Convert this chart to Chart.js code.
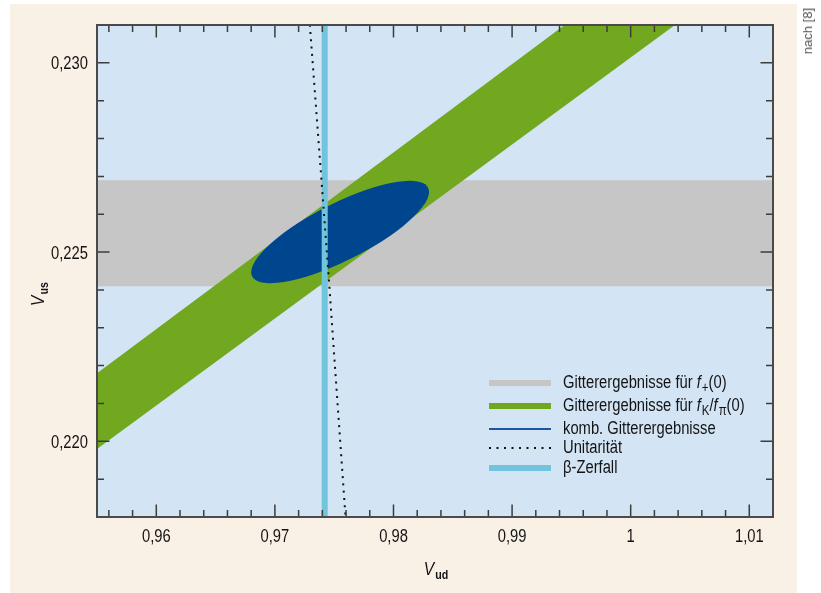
<!DOCTYPE html>
<html>
<head>
<meta charset="utf-8">
<title>Vud / Vus</title>
<script src="https://cdn.jsdelivr.net/npm/chart.js@4.4.0/dist/chart.umd.min.js"></script>
<style>
  html, body { margin: 0; padding: 0; background: #fff; }
  #wrap { position: relative; width: 821px; height: 593px; overflow: hidden; }
  #note {
    position: absolute; left: 800px; top: 8px;
    writing-mode: vertical-rl; transform: rotate(180deg);
    font: 13px 'Liberation Sans', Arial, sans-serif;
    color: #555;
  }
</style>
</head>
<body>
<div id="wrap">
  <canvas id="chart" width="821" height="593"></canvas>
  <div id="note">nach [8]</div>
</div>
<script>
// condensed look: Liberation Sans squeezed horizontally (Arial Narrow style)
const FONT = "'Liberation Sans', Arial, sans-serif";
const SQUEEZE = 0.82;

// axes
const xRange = [0.955, 1.012];
const yRange = [0.218, 0.231];
const xTicks = [0.96, 0.97, 0.98, 0.99, 1.00, 1.01];
const xTickLabels = ['0,96', '0,97', '0,98', '0,99', '1', '1,01'];
const yTicks = [0.220, 0.225, 0.230];
const yTickLabels = ['0,220', '0,225', '0,230'];
const xMinorStep = 0.002;
const yMinorStep = 0.001;

// f+(0) lattice band (horizontal)
const bandX = [0.955, 1.012];
const fPlusUpper = [0.2269, 0.2269];
const fPlusLower = [0.2241, 0.2241];

// fK/fpi lattice band (diagonal)
const fKUpper = [0.2218, 0.2351];
const fKLower = [0.2198, 0.2329];

// combined lattice result (ellipse): centre + two conjugate half axes
const ellipseCenter = [0.9755, 0.22553];
const ellipseAxisA = [0.0075, 0.00106];
const ellipseAxisB = [0, 0.00084];

// beta decay
const betaX = [0.9742, 0.9742];
const betaY = [0.2170, 0.2320];

// unitarity
const unitX = [0.9729, 0.9745, 0.9760];
const unitY = [0.2312, 0.2245, 0.2178];

const colors = {
  grey: '#c6c6c6',
  green: '#71a81f',
  navy: '#00468f',
  navyLine: '#1b56a3',
  cyan: '#70c5dc',
  plot: '#d3e4f5',
  paper: '#f9f0e6',
  text: '#141414'
};

// legend rows: parts = [text, style]  (n normal, i italic, s subscript)
const legendRows = [
  { parts: [['Gitterergebnisse für ', 'n'], ['f', 'i'], ['+', 's'], ['(0)', 'n']], kind: 'band', color: colors.grey },
  { parts: [['Gitterergebnisse für ', 'n'], ['f', 'i'], ['K', 's'], ['/', 'n'], ['f', 'i'], ['π', 's'], ['(0)', 'n']], kind: 'band', color: colors.green },
  { parts: [['komb. Gitterergebnisse', 'n']], kind: 'line', color: colors.navyLine },
  { parts: [['Unitarität', 'n']], kind: 'dots', color: '#111' },
  { parts: [['β-Zerfall', 'n']], kind: 'band', color: colors.cyan }
];

const pts = (xs, ys) => xs.map((x, i) => ({ x, y: ys[i] }));

const fontFor = style => {
  if (style === 'i') return 'italic 18px ' + FONT;
  if (style === 's') return '14px ' + FONT;
  if (style === 'b') return 'bold 13px ' + FONT;
  if (style === 'V') return 'italic 19px ' + FONT;
  return '18px ' + FONT;
};

// squeezed text, returns drawn width
function text(ctx, t, x, y, font, align) {
  ctx.save();
  ctx.font = font;
  ctx.textAlign = align || 'left';
  ctx.textBaseline = 'alphabetic';
  ctx.translate(x, y);
  ctx.scale(SQUEEZE, 1);
  ctx.fillText(t, 0, 0);
  const w = ctx.measureText(t).width * SQUEEZE;
  ctx.restore();
  return w;
}

function partsWidth(ctx, parts) {
  let w = 0;
  for (const [t, style] of parts) {
    ctx.font = fontFor(style);
    w += ctx.measureText(t).width * SQUEEZE + (style === 'i' || style === 'V' ? 1 : 0);
  }
  return w;
}

function drawParts(ctx, parts, x, y) {
  for (const [t, style] of parts) {
    const dy = (style === 's' || style === 'b') ? 4 : 0;
    x += text(ctx, t, x, y + dy, fontFor(style)) + (style === 'i' || style === 'V' ? 1 : 0);
  }
}

const paperPlugin = {
  id: 'paper',
  beforeDraw(chart) {
    const { ctx, chartArea: a } = chart;
    ctx.save();
    ctx.fillStyle = colors.paper;
    ctx.fillRect(10, 4, 787, 589);
    ctx.fillStyle = colors.plot;
    ctx.fillRect(a.left, a.top, a.right - a.left, a.bottom - a.top);
    ctx.restore();
  }
};

const ellipsePlugin = {
  id: 'ellipse',
  afterDatasetDraw(chart, args) {
    if (args.index !== 2) return;
    const { ctx, chartArea: a, scales: { x, y } } = chart;
    const cx = x.getPixelForValue(ellipseCenter[0]);
    const cy = y.getPixelForValue(ellipseCenter[1]);
    const ax = x.getPixelForValue(ellipseCenter[0] + ellipseAxisA[0]) - cx;
    const ay = y.getPixelForValue(ellipseCenter[1] + ellipseAxisA[1]) - cy;
    const bx = x.getPixelForValue(ellipseCenter[0] + ellipseAxisB[0]) - cx;
    const by = y.getPixelForValue(ellipseCenter[1] + ellipseAxisB[1]) - cy;
    ctx.save();
    ctx.beginPath();
    ctx.rect(a.left, a.top, a.right - a.left, a.bottom - a.top);
    ctx.clip();
    ctx.transform(ax, ay, bx, by, cx, cy);
    ctx.beginPath();
    ctx.arc(0, 0, 1, 0, Math.PI * 2);
    ctx.setTransform(1, 0, 0, 1, 0, 0);
    ctx.fillStyle = colors.navy;
    ctx.fill();
    ctx.restore();
  }
};

// frame, inward ticks on all four sides, labels, titles, legend
const framePlugin = {
  id: 'frame',
  afterDatasetsDraw(chart) {
    const { ctx, chartArea: a, scales: { x, y } } = chart;
    ctx.save();
    ctx.strokeStyle = '#3c3c3c';
    ctx.lineWidth = 1.5;
    ctx.beginPath();
    for (let k = Math.ceil(xRange[0] / xMinorStep - 1e-6); k * xMinorStep <= xRange[1] + 1e-9; k++) {
      const v = k * xMinorStep;
      const major = xTicks.some(t => Math.abs(t - v) < 1e-7);
      const len = major ? 12.5 : 7;
      const px = x.getPixelForValue(v);
      ctx.moveTo(px, a.bottom); ctx.lineTo(px, a.bottom - len);
      ctx.moveTo(px, a.top); ctx.lineTo(px, a.top + len);
    }
    for (let k = Math.ceil(yRange[0] / yMinorStep - 1e-6); k * yMinorStep <= yRange[1] + 1e-9; k++) {
      const v = k * yMinorStep;
      const major = yTicks.some(t => Math.abs(t - v) < 1e-7);
      const len = major ? 12.5 : 7;
      const py = y.getPixelForValue(v);
      ctx.moveTo(a.left, py); ctx.lineTo(a.left + len, py);
      ctx.moveTo(a.right, py); ctx.lineTo(a.right - len, py);
    }
    ctx.stroke();
    ctx.lineWidth = 2;
    ctx.strokeStyle = '#4a4a4a';
    ctx.strokeRect(a.left, a.top, a.right - a.left, a.bottom - a.top);
    ctx.restore();
  },
  afterDraw(chart) {
    const { ctx, chartArea: a, scales: { x, y } } = chart;
    ctx.save();
    ctx.fillStyle = colors.text;

    // tick labels
    xTicks.forEach((v, i) => text(ctx, xTickLabels[i], x.getPixelForValue(v), a.bottom + 25, '18px ' + FONT, 'center'));
    yTicks.forEach((v, i) => text(ctx, yTickLabels[i], a.left - 9, y.getPixelForValue(v) + 6.5, '18px ' + FONT, 'right'));

    // axis titles
    const xt = [['V', 'V'], ['ud', 'b']];
    const xw = partsWidth(ctx, xt);
    drawParts(ctx, xt, (a.left + a.right) / 2 - xw / 2 + 1, 575);

    const yt = [['V', 'V'], ['us', 'b']];
    const yw = partsWidth(ctx, yt);
    ctx.save();
    ctx.translate(44, 294);
    ctx.rotate(-Math.PI / 2);
    drawParts(ctx, yt, -yw / 2, 0);
    ctx.restore();

    // legend
    const lx0 = 489, lx1 = 551, textX = 563;
    const rowY = [383, 406, 429, 448, 468];
    legendRows.forEach((row, i) => {
      const ly = rowY[i];
      ctx.beginPath();
      ctx.strokeStyle = row.color;
      ctx.setLineDash(row.kind === 'dots' ? [2, 5.5] : []);
      ctx.lineWidth = row.kind === 'band' ? 6 : 2;
      ctx.moveTo(lx0, ly);
      ctx.lineTo(lx1, ly);
      ctx.stroke();
      ctx.setLineDash([]);
      ctx.fillStyle = colors.text;
      drawParts(ctx, row.parts, textX, ly + 5);
    });
    ctx.restore();
  }
};

Chart.defaults.font.family = FONT;
Chart.defaults.color = colors.text;

new Chart(document.getElementById('chart'), {
  type: 'line',
  data: {
    datasets: [
      { label: 'Unitarität', data: pts(unitX, unitY), borderColor: '#111', borderWidth: 2,
        borderDash: [2, 5.3], pointRadius: 0, fill: false, clip: 0, order: 0 },
      { label: 'β-Zerfall', data: pts(betaX, betaY), borderColor: colors.cyan, borderWidth: 6,
        pointRadius: 0, fill: false, clip: 0, order: 1 },
      { label: 'fK/fπ upper', data: pts(bandX, fKUpper), borderWidth: 0, borderColor: 'transparent',
        backgroundColor: colors.green, pointRadius: 0, fill: '+1', clip: 0, order: 2 },
      { label: 'fK/fπ lower', data: pts(bandX, fKLower), borderWidth: 0, borderColor: 'transparent',
        pointRadius: 0, fill: false, clip: 0, order: 3 },
      { label: 'f+ upper', data: pts(bandX, fPlusUpper), borderWidth: 0, borderColor: 'transparent',
        backgroundColor: colors.grey, pointRadius: 0, fill: '+1', clip: 0, order: 4 },
      { label: 'f+ lower', data: pts(bandX, fPlusLower), borderWidth: 0, borderColor: 'transparent',
        pointRadius: 0, fill: false, clip: 0, order: 5 }
    ]
  },
  options: {
    responsive: false,
    animation: false,
    layout: { padding: { left: 0, right: 48, top: 25, bottom: 0 } },
    plugins: { legend: { display: false }, tooltip: { enabled: false } },
    scales: {
      x: {
        type: 'linear', min: xRange[0], max: xRange[1],
        afterBuildTicks: s => { s.ticks = xTicks.map(v => ({ value: v })); },
        afterFit: s => { s.height = 76; },
        grid: { display: false, drawTicks: false },
        border: { display: false },
        ticks: { display: false }
      },
      y: {
        type: 'linear', min: yRange[0], max: yRange[1],
        afterBuildTicks: s => { s.ticks = yTicks.map(v => ({ value: v })); },
        afterFit: s => { s.width = 97; },
        grid: { display: false, drawTicks: false },
        border: { display: false },
        ticks: { display: false }
      }
    }
  },
  plugins: [paperPlugin, ellipsePlugin, framePlugin]
});
</script>
</body>
</html>
